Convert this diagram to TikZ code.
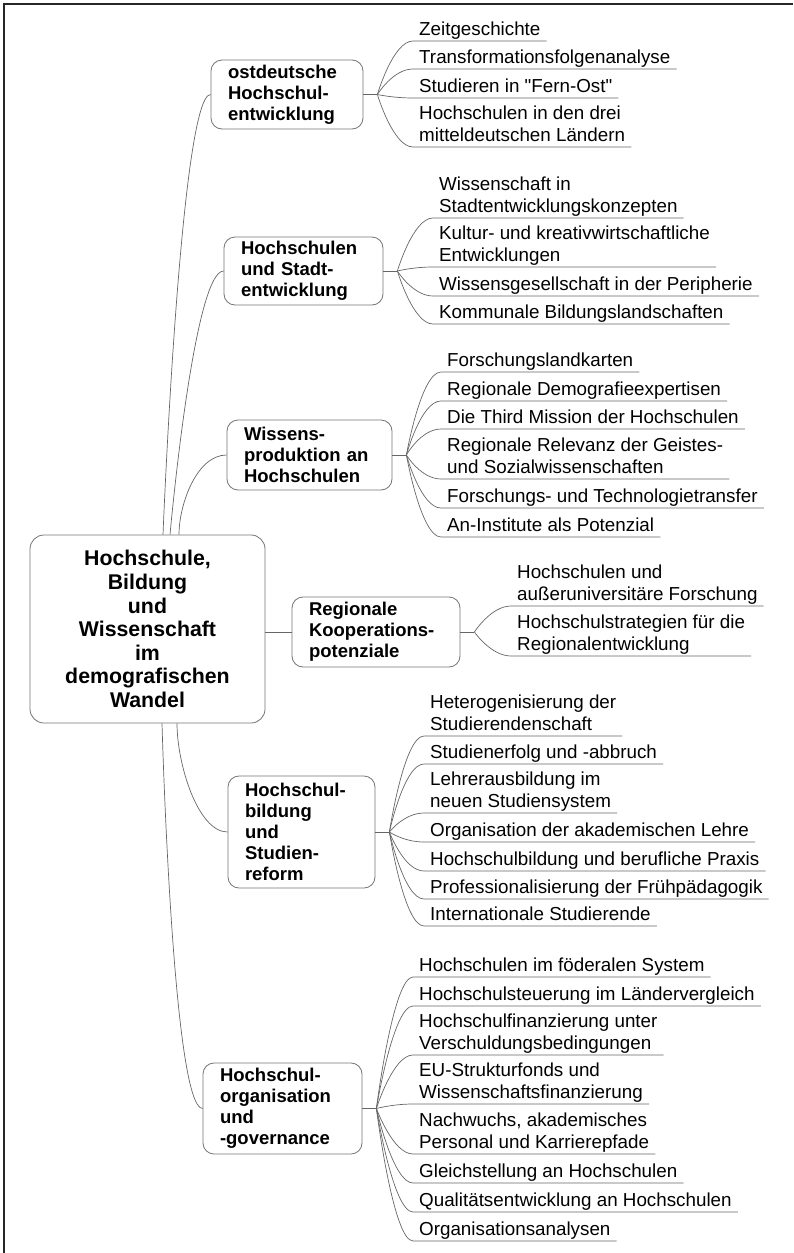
\documentclass[tikz,border=0pt]{standalone}
\usepackage{fontspec}
\setmainfont{Liberation Sans}[Ligatures=TeXOff]
\usetikzlibrary{calc}

\tikzset{
  topic/.style={draw=black!55, line width=0.8pt, rounded corners=11pt,
    font=\fontsize{18.5}{21}\selectfont\bfseries, align=left,
    inner xsep=17pt, inner ysep=3pt},
  hub/.style={topic, align=center, rounded corners=14pt,
    font=\fontsize{21.3}{23.6}\selectfont\bfseries},
  subtopic/.style={anchor=south west, inner xsep=6pt, inner ysep=0pt,
    text depth=5.5pt, align=left, font=\fontsize{18.8}{21.7}\selectfont},
  link/.style={draw=black!60, line width=0.7pt}
}

\begin{document}
\begin{tikzpicture}[x=1pt, y=-1pt]
  \useasboundingbox (0,0) rectangle (793,1253);
  \draw [line width=1.6pt, black!85] (4,1253) -- (4,4) -- (793,4);

  \node [hub, text width=201pt, minimum height=188pt] (root) at (147.5,629)
    {Hochschule,\\Bildung\\und\\Wissenschaft\\im\\demografischen\\Wandel};

  \node [topic, text width=118pt, minimum height=69pt]  (ost)   at (287,94.5)   {ostdeutsche\\Hochschul-\\entwicklung};
  \node [topic, text width=125pt, minimum height=68pt]  (stadt) at (303.5,271)  {Hochschulen\\und Stadt-\\entwicklung};
  \node [topic, text width=131pt, minimum height=70pt]  (wis)   at (309.5,455)  {Wissens-\\produktion an\\Hochschulen};
  \node [topic, text width=134pt, minimum height=70pt]  (koop)  at (376,632)    {Regionale\\Kooperations-\\potenziale};
  \node [topic, text width=113pt, minimum height=112pt] (lehre) at (301.5,832)  {Hochschul-\\bildung\\und\\Studien-\\reform};
  \node [topic, text width=125pt, minimum height=91pt]  (gov)   at (282.5,1108.5) {Hochschul-\\organisation\\und\\-governance};

  \coordinate (r-ost)   at ($(root.north)+(15.5,0)$);
  \coordinate (r-stadt) at ($(root.north)+(22.5,0)$);
  \coordinate (r-wis)   at ($(root.north)+(31.5,0)$);
  \coordinate (r-gov)   at ($(root.south)+(14.5,0)$);
  \coordinate (r-lehre) at ($(root.south)+(29.5,0)$);

  \draw [link] (r-ost) .. controls (r-ost) and ($(ost.west)+(-30,0)$) .. (ost.west);
  \draw [link] (r-stadt) .. controls (r-stadt) and ($(stadt.west)+(-30,0)$) .. (stadt.west);
  \draw [link] (r-wis) .. controls ($(r-wis)+(0,-30)$) and ($(wis.west)+(-30,0)$) .. (wis.west);
  \draw [link] (root.east |- koop.west) -- (koop.west);
  \draw [link] (r-lehre) .. controls ($(r-lehre)+(0,40)$) and ($(lehre.west)+(-30,0)$) .. (lehre.west);
  \draw [link] (r-gov) .. controls (r-gov) and ($(gov.west)+(-30,0)$) .. (gov.west);

  \coordinate (ost-f)   at ($(ost.east)+(14,0)$);
  \coordinate (stadt-f) at ($(stadt.east)+(14,0)$);
  \coordinate (wis-f)   at ($(wis.east)+(14,0)$);
  \coordinate (koop-f)  at ($(koop.east)+(14,0)$);
  \coordinate (lehre-f) at ($(lehre.east)+(14,0)$);
  \coordinate (gov-f)   at ($(gov.east)+(14,0)$);
  \draw [link] (ost.east) -- (ost-f);
  \draw [link] (stadt.east) -- (stadt-f);
  \draw [link] (wis.east) -- (wis-f);
  \draw [link] (koop.east) -- (koop-f);
  \draw [link] (lehre.east) -- (lehre-f);
  \draw [link] (gov.east) -- (gov-f);

  % ostdeutsche Hochschulentwicklung
  \node [subtopic] (ost1) at (413,41)  {Zeitgeschichte};
  \node [subtopic] (ost2) at (413,69)  {Transformationsfolgenanalyse};
  \node [subtopic] (ost3) at (413,98)  {Studieren in "Fern-Ost"};
  \node [subtopic] (ost4) at (413,147) {Hochschulen in den drei\\mitteldeutschen Ländern};

  % Hochschulen und Stadtentwicklung
  \node [subtopic] (stadt1) at (433,218) {Wissenschaft in\\Stadtentwicklungskonzepten};
  \node [subtopic] (stadt2) at (433,267) {Kultur- und kreativwirtschaftliche\\Entwicklungen};
  \node [subtopic] (stadt3) at (433,296) {Wissensgesellschaft in der Peripherie};
  \node [subtopic] (stadt4) at (433,324) {Kommunale Bildungslandschaften};

  % Wissensproduktion
  \node [subtopic] (wis1) at (441,372) {Forschungslandkarten};
  \node [subtopic] (wis2) at (441,401) {Regionale Demografieexpertisen};
  \node [subtopic] (wis3) at (441,429) {Die Third Mission der Hochschulen};
  \node [subtopic] (wis4) at (441,479) {Regionale Relevanz der Geistes-\\und Sozialwissenschaften};
  \node [subtopic] (wis5) at (441,508) {Forschungs- und Technologietransfer};
  \node [subtopic] (wis6) at (441,537) {An-Institute als Potenzial};

  % Kooperationspotenziale
  \node [subtopic] (koop1) at (511,606) {Hochschulen und\\außeruniversitäre Forschung};
  \node [subtopic] (koop2) at (511,656) {Hochschulstrategien für die\\Regionalentwicklung};

  % Hochschulbildung und Studienreform
  \node [subtopic] (lehre1) at (424,736) {Heterogenisierung der\\Studierendenschaft};
  \node [subtopic] (lehre2) at (424,764) {Studienerfolg und -abbruch};
  \node [subtopic] (lehre3) at (424,813) {Lehrerausbildung im\\neuen Studiensystem};
  \node [subtopic] (lehre4) at (424,842) {Organisation der akademischen Lehre};
  \node [subtopic] (lehre5) at (424,871) {Hochschulbildung und berufliche Praxis};
  \node [subtopic] (lehre6) at (424,899) {Professionalisierung der Frühpädagogik};
  \node [subtopic] (lehre7) at (424,926) {Internationale Studierende};

  % Hochschulorganisation und -governance
  \node [subtopic] (gov1) at (413,977)  {Hochschulen im föderalen System};
  \node [subtopic] (gov2) at (413,1006) {Hochschulsteuerung im Ländervergleich};
  \node [subtopic] (gov3) at (413,1055) {Hochschulfinanzierung unter\\Verschuldungsbedingungen};
  \node [subtopic] (gov4) at (413,1104) {EU-Strukturfonds und\\Wissenschaftsfinanzierung};
  \node [subtopic] (gov5) at (413,1154) {Nachwuchs, akademisches\\Personal und Karrierepfade};
  \node [subtopic] (gov6) at (413,1183) {Gleichstellung an Hochschulen};
  \node [subtopic] (gov7) at (413,1212) {Qualitätsentwicklung an Hochschulen};
  \node [subtopic] (gov8) at (413,1241) {Organisationsanalysen};

  \foreach \f/\c in {ost/ost1, ost/ost2, ost/ost3, ost/ost4,
      stadt/stadt1, stadt/stadt2, stadt/stadt3, stadt/stadt4,
      wis/wis1, wis/wis2, wis/wis3, wis/wis4, wis/wis5, wis/wis6,
      koop/koop1, koop/koop2,
      lehre/lehre1, lehre/lehre2, lehre/lehre3, lehre/lehre4, lehre/lehre5, lehre/lehre6, lehre/lehre7,
      gov/gov1, gov/gov2, gov/gov3, gov/gov4, gov/gov5, gov/gov6, gov/gov7, gov/gov8}
    \draw [link] (\f-f) .. controls (\f-f) and ($(\c.south west)+(-20,0)$) .. (\c.south west) -- (\c.south east);
\end{tikzpicture}
\end{document}
